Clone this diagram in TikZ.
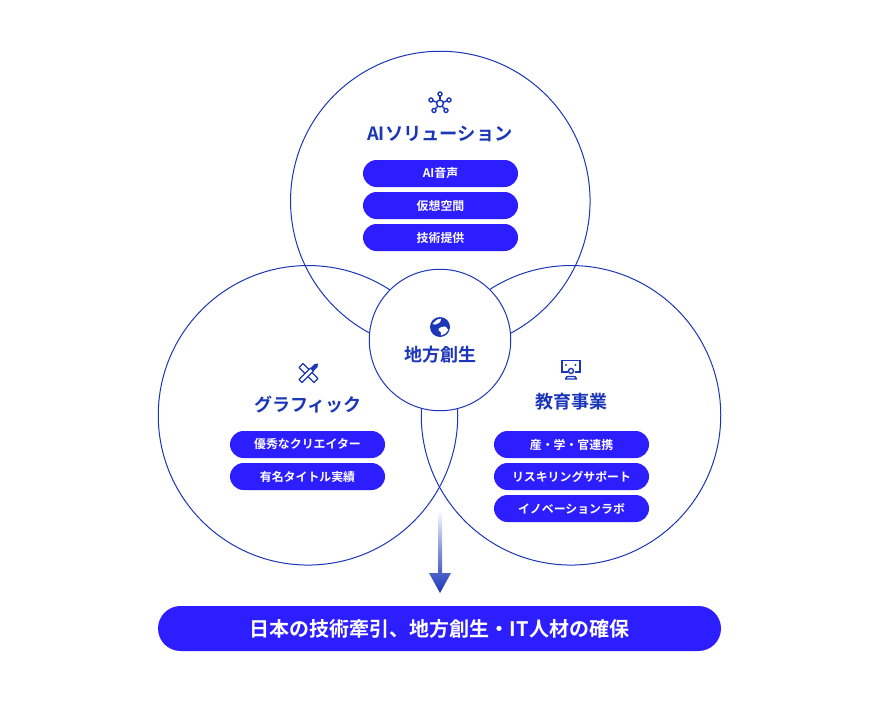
\documentclass[tikz,border=0pt]{standalone}
\usepackage{fontspec}
\setmainfont{Noto Sans CJK JP}[BoldFont={Noto Sans CJK JP Bold}]
\definecolor{navy}{HTML}{1B36B8}
\definecolor{pill}{HTML}{2D1EFF}
\tikzset{
 x=1pt,y=-1pt,
 ring/.style={draw=navy,line width=1pt},
 tag/.style={fill=pill,text=white,rounded corners=13.5pt,minimum width=155pt,minimum height=27pt,inner sep=0pt,font=\bfseries\fontsize{11.9}{12}\selectfont},
 heading/.style={text=navy,inner sep=0pt,font=\bfseries\fontsize{18}{18}\selectfont},
 icon/.style={draw=navy,line width=1.4pt,fill=none},
}
\begin{document}
\begin{tikzpicture}
\useasboundingbox (0,0) rectangle (879,701);
\fill[white] (0,0) rectangle (879,701);
% circles
\node[ring,circle,minimum size=299.500pt,inner sep=0pt] (top) at (440.300,201) {};
\node[ring,circle,minimum size=299.500pt,inner sep=0pt] (left) at (308,415.300) {};
\node[ring,circle,minimum size=299.500pt,inner sep=0pt] (right) at (571,415.300) {};
\node[ring,circle,fill=white,minimum size=141.500pt,inner sep=0pt] (mid) at (440,340) {};
% headings
\node[heading,font=\bfseries\fontsize{18.300}{18}\selectfont] (h1) at (440,133.500) {AIソリューション};
\node[heading] (h2) at (308,404.500) {グラフィック};
\node[heading] (h3) at (571.500,401.500) {教育事業};
\node[heading] (h4) at (440,355) {地方創生};
% tags
\node[tag] (t1) at (440.500,173.500) {\raisebox{-0.5pt}{AI音声}};
\node[tag] (t2) at (440.500,205.500) {\raisebox{-0.5pt}{仮想空間}};
\node[tag] (t3) at (440.500,237.500) {\raisebox{-0.5pt}{技術提供}};
\node[tag] (l1) at (307.500,444.500) {\raisebox{-0.5pt}{優秀なクリエイター}};
\node[tag] (l2) at (307.500,476.500) {\raisebox{-0.5pt}{有名タイトル実績}};
\node[tag] (r1) at (571.500,444.500) {\raisebox{-0.5pt}{産・学・官連携}};
\node[tag] (r2) at (571.500,476.500) {\raisebox{-0.5pt}{リスキリングサポート}};
\node[tag] (r3) at (571.500,508.500) {\raisebox{-0.5pt}{イノベーションラボ}};
% banner
\node[fill=pill,text=white,rounded corners=22.5pt,minimum width=563pt,minimum height=45pt,inner sep=0pt,font=\bfseries\fontsize{20}{20}\selectfont] (goal) at (439.500,628.500) {\raisebox{-1.2pt}{日本の技術牽引、地方創生・IT人材の確保}};
% arrow
\shade[top color=white,bottom color=navy,middle color=navy!55]
 (438,510) -- (442,510) -- (442,573) -- (451,573) -- (440,593) -- (429,573) -- (438,573) -- cycle;
% network icon
\begin{scope}[shift={(440,103.500)}]
 \foreach \px/\py in {0/-9.500, -9/-3.500, 9/-3.500, -6/7, 6/7}{
  \draw[icon] (0,0) -- (\px,\py);
  \draw[icon,fill=white] (\px,\py) circle (2);
 }
 \draw[icon,fill=white] (0,0) circle (3.400);
\end{scope}
% globe icon
\begin{scope}[shift={(440,327)}]
 \fill[navy] (0,0) circle (10);
 \fill[white] (-7.500,-3) .. controls (-4,-7.500) and (-1,-8.500) .. (1,-8.500) .. controls (1,-5) and (-1,-3.500) .. (-3,-3) .. controls (-4,-2.500) and (-6,-2) .. cycle;
 \fill[white] (8.300,3) .. controls (6,-1) and (4,-1.500) .. (1.500,0) .. controls (-0.500,1) and (-3,2) .. (-1.500,3.500) .. controls (1,4) and (1,5) .. (1,8.500) .. controls (4,8) and (7,6) .. cycle;
\end{scope}
% tools icon
\begin{scope}[shift={(308.500,373)}]
 \draw[icon,line join=round] (-9.500,-5.500) -- (-5.500,-9.500) -- (9.500,5.500) -- (5.500,9.500) -- cycle;
 \draw[icon,fill=white,line join=round] (-9.500,6.500) -- (-6.500,9.500) -- (5,-2) -- (2,-5) -- cycle;
 \fill[navy] (2,-5) -- (6,-9) -- (9.500,-9.500) -- (9,-6) -- (5,-2) -- cycle;
\end{scope}
% screen icon
\begin{scope}[shift={(571,370)}]
 \draw[icon] (-3.500,2) -- (-9,2) -- (-9,-9.500) -- (9,-9.500) -- (9,2) -- (3.500,2);
 \fill[navy] (-5,-5) circle (1.200) (4.500,-5) circle (1.200);
 \draw[icon] (0,1) circle (2.500);
 \draw[icon,line join=round] (-5.500,9) .. controls (-5.500,6.500) and (-4,6.500) .. (0,6.500) .. controls (4,6.500) and (5.500,6.500) .. (5.500,9) -- cycle;
\end{scope}
\end{tikzpicture}
\end{document}
